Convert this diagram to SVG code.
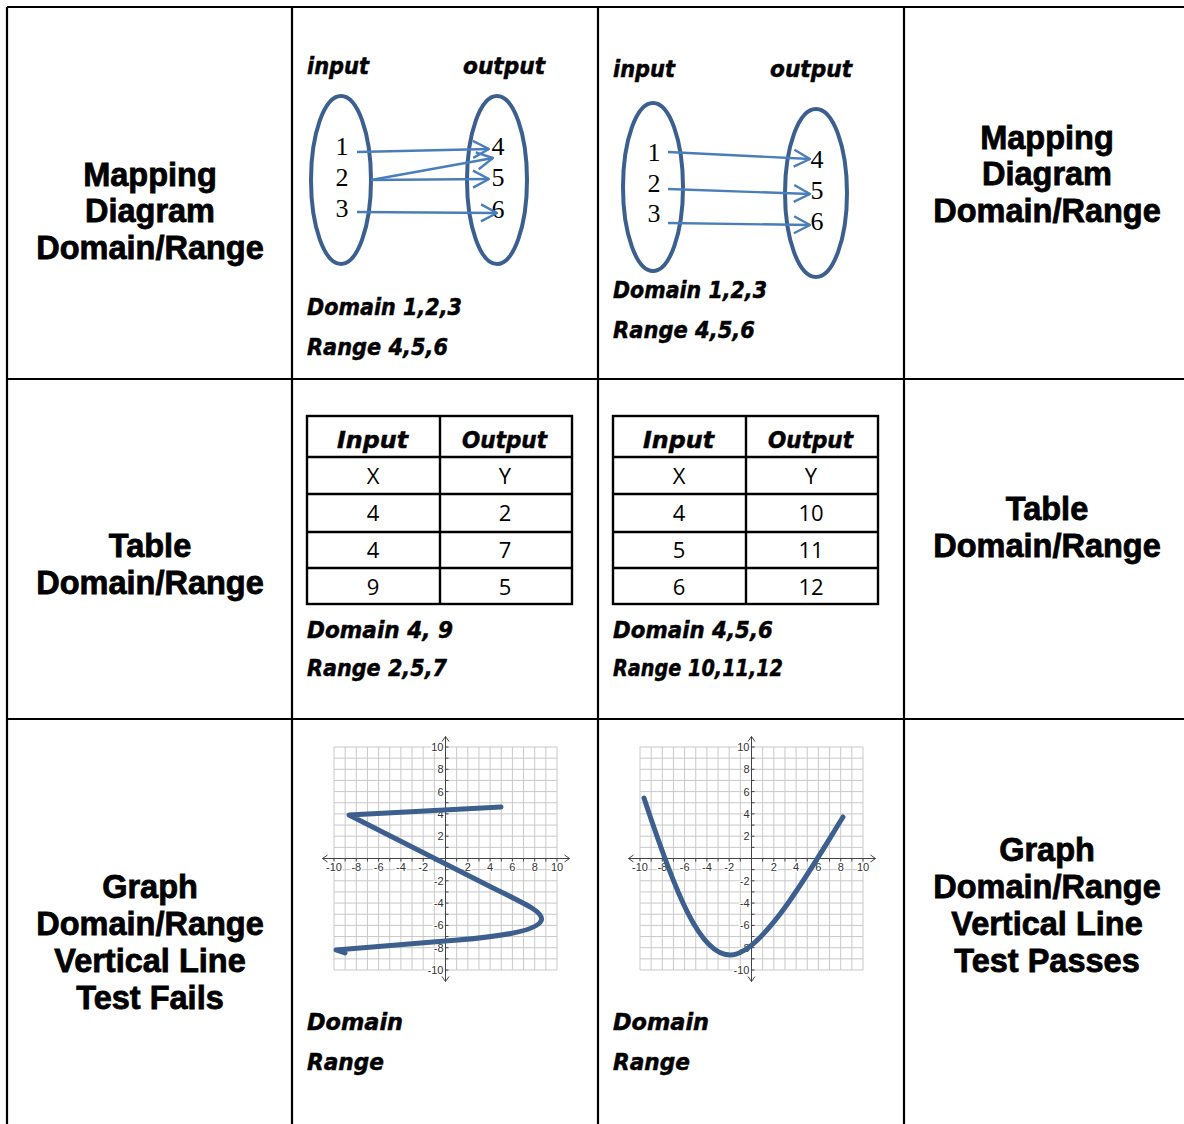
<svg xmlns="http://www.w3.org/2000/svg" xmlns:xlink="http://www.w3.org/1999/xlink" width="1184" height="1124" viewBox="0 0 1184 1124">
<style>
.frame{stroke:#000;stroke-width:2.2;fill:none}
.lbl{font-family:"Liberation Sans",Arial,sans-serif;font-weight:bold;font-size:32.5px;fill:#000;stroke:#000;stroke-width:0.8;text-anchor:middle}
.hand{font-family:"DejaVu Sans",sans-serif;font-weight:bold;font-style:italic;font-size:23px;fill:#000;stroke:#000;stroke-width:0.5}
.num{font-family:"Liberation Serif","Times New Roman",serif;font-size:26px;fill:#000;text-anchor:middle}
.oval{fill:none;stroke:#3b5f8f;stroke-width:4}
.arr{fill:none;stroke:#4a7ebb;stroke-width:2.4;marker-end:url(#chev)}
.tbl{fill:none;stroke:#000;stroke-width:2.4}
.cell{font-family:"Open Sans","DejaVu Sans",sans-serif;font-size:22px;fill:#000;text-anchor:middle}
.grid{fill:none;stroke:#c9c9c9;stroke-width:1}
.axis{fill:none;stroke:#444;stroke-width:1}
.tick{font-family:"Liberation Sans",Arial,sans-serif;font-size:11px;fill:#333;stroke:#fff;stroke-width:2.5;paint-order:stroke}
.curve{fill:none;stroke:#3d5f8e;stroke-width:5;stroke-linecap:round;stroke-linejoin:round}
</style>
<defs>
<marker id="chev" viewBox="0 0 18 20" refX="17" refY="10" markerWidth="18" markerHeight="20" markerUnits="userSpaceOnUse" orient="auto">
<path d="M1,1.5 L17,10 L1,18.5" fill="none" stroke="#4a7ebb" stroke-width="2.4"/>
</marker>
<g id="plane">
<path class="grid" d="M-111.5,-111.5V111.5M-100.35,-111.5V111.5M-89.2,-111.5V111.5M-78.05,-111.5V111.5M-66.9,-111.5V111.5M-55.75,-111.5V111.5M-44.6,-111.5V111.5M-33.45,-111.5V111.5M-22.3,-111.5V111.5M-11.15,-111.5V111.5M11.15,-111.5V111.5M22.3,-111.5V111.5M33.45,-111.5V111.5M44.6,-111.5V111.5M55.75,-111.5V111.5M66.9,-111.5V111.5M78.05,-111.5V111.5M89.2,-111.5V111.5M100.35,-111.5V111.5M111.5,-111.5V111.5M-111.5,-111.5H111.5M-111.5,-100.35H111.5M-111.5,-89.2H111.5M-111.5,-78.05H111.5M-111.5,-66.9H111.5M-111.5,-55.75H111.5M-111.5,-44.6H111.5M-111.5,-33.45H111.5M-111.5,-22.3H111.5M-111.5,-11.15H111.5M-111.5,11.15H111.5M-111.5,22.3H111.5M-111.5,33.45H111.5M-111.5,44.6H111.5M-111.5,55.75H111.5M-111.5,66.9H111.5M-111.5,78.05H111.5M-111.5,89.2H111.5M-111.5,100.35H111.5M-111.5,111.5H111.5"/>
<path class="axis" d="M-123,0H124M0,-122V123M-118,-3.5L-123,0L-118,3.5M119,-3.5L124,0L119,3.5M-3.5,-117L0,-122L3.5,-117M-3.5,118L0,123L3.5,118"/>
<path class="axis" d="M-111.5,0v3M-100.35,0v3M-89.2,0v3M-78.05,0v3M-66.9,0v3M-55.75,0v3M-44.6,0v3M-33.45,0v3M-22.3,0v3M-11.15,0v3M11.15,0v3M22.3,0v3M33.45,0v3M44.6,0v3M55.75,0v3M66.9,0v3M78.05,0v3M89.2,0v3M100.35,0v3M111.5,0v3M0,-111.5h3M0,-100.35h3M0,-89.2h3M0,-78.05h3M0,-66.9h3M0,-55.75h3M0,-44.6h3M0,-33.45h3M0,-22.3h3M0,-11.15h3M0,11.15h3M0,22.3h3M0,33.45h3M0,44.6h3M0,55.75h3M0,66.9h3M0,78.05h3M0,89.2h3M0,100.35h3M0,111.5h3"/>
<g class="tick" text-anchor="middle">
<text x="-111.5" y="12">-10</text><text x="-89.2" y="12">-8</text><text x="-66.9" y="12">-6</text><text x="-44.6" y="12">-4</text><text x="-22.3" y="12">-2</text><text x="22.3" y="12">2</text><text x="44.6" y="12">4</text><text x="66.9" y="12">6</text><text x="89.2" y="12">8</text><text x="111.5" y="12">10</text>
</g>
<g class="tick" text-anchor="end">
<text x="-2" y="-107.5">10</text><text x="-2" y="-85.2">8</text><text x="-2" y="-62.9">6</text><text x="-2" y="-40.6">4</text><text x="-2" y="-18.3">2</text><text x="-2" y="26.3">-2</text><text x="-2" y="48.6">-4</text><text x="-2" y="70.9">-6</text><text x="-2" y="93.2">-8</text><text x="-2" y="115.5">-10</text>
</g>
</g>
</defs>
<rect width="1184" height="1124" fill="#fff"/>
<g id="table-frame">
<path class="frame" d="M7,7H1184M7,379H1184M7,719H1184M7,7V1124M292,7V1124M598,7V1124M904,7V1124"/>
</g>
<g id="label-mapping-left">
<text class="lbl" x="150" y="186">Mapping</text>
<text class="lbl" x="150" y="222">Diagram</text>
<text class="lbl" x="150" y="259">Domain/Range</text>
</g>
<g id="label-mapping-right">
<text class="lbl" x="1047" y="149">Mapping</text>
<text class="lbl" x="1047" y="185">Diagram</text>
<text class="lbl" x="1047" y="222">Domain/Range</text>
</g>
<g id="label-table-left">
<text class="lbl" x="150" y="557">Table</text>
<text class="lbl" x="150" y="594">Domain/Range</text>
</g>
<g id="label-table-right">
<text class="lbl" x="1047" y="520">Table</text>
<text class="lbl" x="1047" y="557">Domain/Range</text>
</g>
<g id="label-graph-left">
<text class="lbl" x="150" y="898">Graph</text>
<text class="lbl" x="150" y="935">Domain/Range</text>
<text class="lbl" x="150" y="972">Vertical Line</text>
<text class="lbl" x="150" y="1009">Test Fails</text>
</g>
<g id="label-graph-right">
<text class="lbl" x="1047" y="861">Graph</text>
<text class="lbl" x="1047" y="898">Domain/Range</text>
<text class="lbl" x="1047" y="935">Vertical Line</text>
<text class="lbl" x="1047" y="972">Test Passes</text>
</g>
<g id="mapping-1">
<text class="hand" x="307" y="74" textLength="62" lengthAdjust="spacingAndGlyphs">input</text>
<text class="hand" x="463" y="74" textLength="82" lengthAdjust="spacingAndGlyphs">output</text>
<ellipse class="oval" cx="341" cy="180" rx="30" ry="84"/>
<ellipse class="oval" cx="497" cy="180" rx="30" ry="84"/>
<text class="num" x="342" y="155">1</text>
<text class="num" x="342" y="186">2</text>
<text class="num" x="342" y="217">3</text>
<text class="num" x="498" y="155">4</text>
<text class="num" x="498" y="186">5</text>
<text class="num" x="498" y="218">6</text>
<text class="hand" x="307" y="315" textLength="155" lengthAdjust="spacingAndGlyphs">Domain 1,2,3</text>
<text class="hand" x="307" y="355" textLength="141" lengthAdjust="spacingAndGlyphs">Range 4,5,6</text>
</g>
<g id="mapping-2">
<text class="hand" x="613" y="77" textLength="62" lengthAdjust="spacingAndGlyphs">input</text>
<text class="hand" x="770" y="77" textLength="82" lengthAdjust="spacingAndGlyphs">output</text>
<ellipse class="oval" cx="653" cy="187" rx="30" ry="84"/>
<ellipse class="oval" cx="816" cy="193" rx="31" ry="84"/>
<text class="num" x="654" y="161">1</text>
<text class="num" x="654" y="192">2</text>
<text class="num" x="654" y="222">3</text>
<text class="num" x="817" y="168">4</text>
<text class="num" x="817" y="199">5</text>
<text class="num" x="817" y="230">6</text>
<text class="hand" x="613" y="298" textLength="154" lengthAdjust="spacingAndGlyphs">Domain 1,2,3</text>
<text class="hand" x="613" y="338" textLength="142" lengthAdjust="spacingAndGlyphs">Range 4,5,6</text>
</g>
<g id="connectors">
<path class="arr" d="M357,152L489,149"/>
<path class="arr" d="M371,180L493,158"/>
<path class="arr" d="M371,180L489,179"/>
<path class="arr" d="M357,212L497,213"/>
<path class="arr" d="M668,152L810,159"/>
<path class="arr" d="M668,189L810,194"/>
<path class="arr" d="M668,223L810,225"/>
</g>
<g id="table-1">
<rect class="tbl" x="307" y="416" width="265" height="188"/>
<path class="tbl" d="M440,416V604M307,457H572M307,494H572M307,532H572M307,568H572"/>
<text class="hand" x="337" y="448" textLength="71" lengthAdjust="spacingAndGlyphs">Input</text>
<text class="hand" x="462" y="448" textLength="85" lengthAdjust="spacingAndGlyphs">Output</text>
<text class="cell" x="373" y="484">X</text><text class="cell" x="505" y="484">Y</text>
<text class="cell" x="373" y="521">4</text><text class="cell" x="505" y="521">2</text>
<text class="cell" x="373" y="558">4</text><text class="cell" x="505" y="558">7</text>
<text class="cell" x="373" y="595">9</text><text class="cell" x="505" y="595">5</text>
<text class="hand" x="307" y="638" textLength="146" lengthAdjust="spacingAndGlyphs">Domain 4, 9</text>
<text class="hand" x="307" y="676" textLength="140" lengthAdjust="spacingAndGlyphs">Range 2,5,7</text>
</g>
<g id="table-2">
<rect class="tbl" x="613" y="416" width="265" height="188"/>
<path class="tbl" d="M746,416V604M613,457H878M613,494H878M613,532H878M613,568H878"/>
<text class="hand" x="643" y="448" textLength="71" lengthAdjust="spacingAndGlyphs">Input</text>
<text class="hand" x="768" y="448" textLength="85" lengthAdjust="spacingAndGlyphs">Output</text>
<text class="cell" x="679" y="484">X</text><text class="cell" x="811" y="484">Y</text>
<text class="cell" x="679" y="521">4</text><text class="cell" x="811" y="521">10</text>
<text class="cell" x="679" y="558">5</text><text class="cell" x="811" y="558">11</text>
<text class="cell" x="679" y="595">6</text><text class="cell" x="811" y="595">12</text>
<text class="hand" x="613" y="638" textLength="160" lengthAdjust="spacingAndGlyphs">Domain 4,5,6</text>
<text class="hand" x="613" y="676" textLength="170" lengthAdjust="spacingAndGlyphs">Range 10,11,12</text>
</g>
<g id="graph-1">
<use xlink:href="#plane" href="#plane" x="445.5" y="858.5"/>
<path class="curve" d="M501,807L349,815L493,888C528,905 545,913 541,921C536,931 500,937 445,941L336,950L345,953"/>
<text class="hand" x="307" y="1030" textLength="96" lengthAdjust="spacingAndGlyphs">Domain</text>
<text class="hand" x="307" y="1070" textLength="77" lengthAdjust="spacingAndGlyphs">Range</text>
</g>
<g id="graph-2">
<use xlink:href="#plane" href="#plane" x="751.5" y="858.5"/>
<path class="curve" d="M644,798C676,895 700,955 730,955C762,955 810,870 843,817"/>
<text class="hand" x="613" y="1030" textLength="96" lengthAdjust="spacingAndGlyphs">Domain</text>
<text class="hand" x="613" y="1070" textLength="77" lengthAdjust="spacingAndGlyphs">Range</text>
</g>
</svg>
